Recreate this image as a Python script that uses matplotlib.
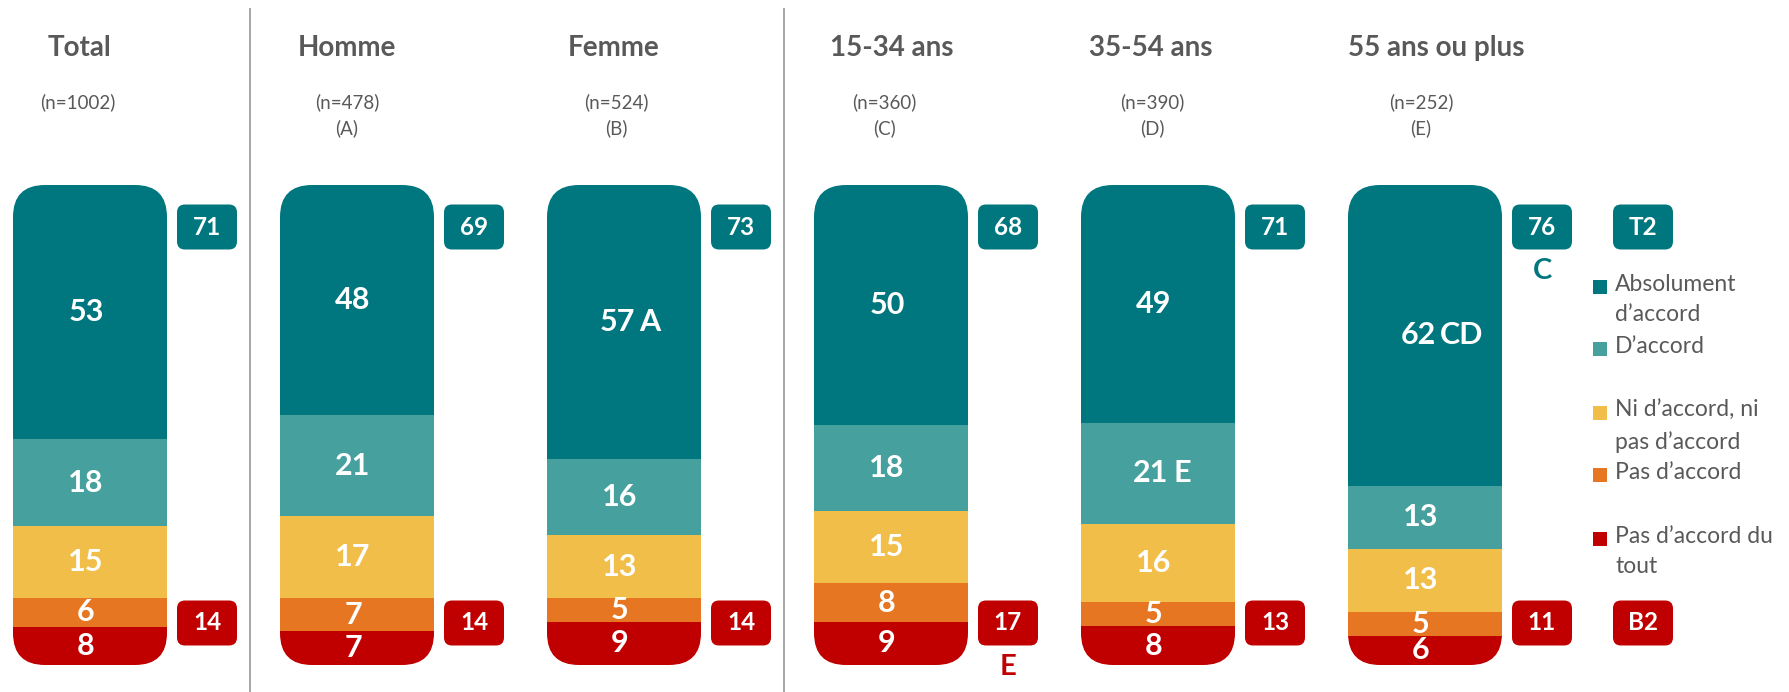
"""Stacked agreement bars by group, rounded columns with T2/B2 badges."""

import matplotlib

matplotlib.use("Agg")
import matplotlib.pyplot as plt
from matplotlib.patches import FancyBboxPatch

plt.rcParams["font.family"] = ["Lato", "DejaVu Sans"]

# --- data -------------------------------------------------------------
groups = ["Total", "Homme", "Femme", "15-34 ans", "35-54 ans", "55 ans ou plus"]
sizes = ["(n=1002)", "(n=478)", "(n=524)", "(n=360)", "(n=390)", "(n=252)"]
group_codes = ["", "(A)", "(B)", "(C)", "(D)", "(E)"]

categories = [
    "Absolument\nd\u2019accord",
    "D\u2019accord",
    "Ni d\u2019accord, ni\npas d\u2019accord",
    "Pas d\u2019accord",
    "Pas d\u2019accord du\ntout",
]
absolument = [53, 48, 57, 50, 49, 62]
accord = [18, 21, 16, 18, 21, 13]
neutre = [15, 17, 13, 15, 16, 13]
pas_accord = [6, 7, 5, 8, 5, 5]
pas_du_tout = [8, 7, 9, 9, 8, 6]

top2 = [71, 69, 73, 68, 71, 76]
bottom2 = [14, 14, 14, 17, 13, 11]

# significance letters: (series index, group index) -> letter
seg_letters = {(0, 2): "A", (0, 5): "CD", (1, 4): "E"}
top2_letters = ["", "", "", "", "", "C"]
bottom2_letters = ["", "", "", "E", "", ""]

colors = ["#00767E", "#45A09E", "#F1BE4A", "#E67622", "#C00000"]
GREY = "#595959"

# --- layout (pixels) --------------------------------------------------
W, H = 1789, 692
BAR_TOP = 185
PX_PCT = 4.8  # pixels per percent of bar
bar_x = [90 + 267 * i for i in range(6)]
bar_w = 154
title_x = [79, 347, 614, 892, 1151, 1436]
size_x = [78, 347, 616, 884, 1152, 1421]


def py(y_px):
    return (y_px - BAR_TOP) / PX_PCT


fig = plt.figure(figsize=(W / 100, H / 100), dpi=100)
ax = fig.add_axes([0, 0, 1, 1])
ax.set_xlim(0, W)
ax.set_ylim(py(H), py(0))
ax.axis("off")

series = [absolument, accord, neutre, pas_accord, pas_du_tout]

for g, x in enumerate(bar_x):
    vals = [s[g] for s in series]
    total = sum(vals)
    shares = [v / total * 100 for v in vals]

    clip = FancyBboxPatch(
        (x - bar_w / 2, 0), bar_w, 100,
        boxstyle="round,pad=0,rounding_size=32",
        mutation_aspect=1 / PX_PCT, transform=ax.transData,
        facecolor="none", edgecolor="none",
    )
    ax.add_patch(clip)

    bottom = 0
    for k, (v, sh) in enumerate(zip(vals, shares)):
        bars = ax.bar(x, sh, bottom=bottom, width=bar_w, color=colors[k],
                      linewidth=0)
        for b in bars:
            b.set_clip_path(clip)
        mid = bottom + sh / 2
        letter = seg_letters.get((k, g))
        nx = x - 7 if letter else x - 4
        t = ax.text(nx, mid, str(v), ha="center", va="center",
                    color="white", fontsize=22, fontweight="bold")
        t.set_clip_path(clip)
        if letter:
            ax.text(x + 15, mid, letter, ha="left", va="center",
                    color="white", fontsize=22, fontweight="bold")
        bottom += sh

    # T2 / B2 badges
    bx = x + 117
    for val, y_px, col, let in [
        (top2[g], 227, colors[0], top2_letters[g]),
        (bottom2[g], 623, colors[4], bottom2_letters[g]),
    ]:
        badge = FancyBboxPatch(
            (bx - 30, py(y_px - 22.5)), 60, 45 / PX_PCT,
            boxstyle="round,pad=0,rounding_size=8",
            mutation_aspect=1 / PX_PCT, facecolor=col, edgecolor="none",
        )
        ax.add_patch(badge)
        ax.text(bx, py(y_px), str(val), ha="center", va="center",
                color="white", fontsize=17.5, fontweight="bold")
        if let:
            ax.text(bx, py(y_px + 44), let, ha="center", va="center",
                    color=col, fontsize=21, fontweight="bold")

    # headers
    ax.text(title_x[g], py(48), groups[g], ha="center", va="center",
            color=GREY, fontsize=20, fontweight="bold")
    ax.text(size_x[g], py(102), sizes[g], ha="center", va="center",
            color=GREY, fontsize=13.5)
    if group_codes[g]:
        ax.text(size_x[g], py(128), group_codes[g], ha="center", va="center",
                color=GREY, fontsize=13.5)

# T2 / B2 key badges
for label, y_px, col in [("T2", 227, colors[0]), ("B2", 623, colors[4])]:
    kx = 1643
    ax.add_patch(FancyBboxPatch(
        (kx - 30, py(y_px - 22.5)), 60, 45 / PX_PCT,
        boxstyle="round,pad=0,rounding_size=8",
        mutation_aspect=1 / PX_PCT, facecolor=col, edgecolor="none",
    ))
    ax.text(kx, py(y_px), label, ha="center", va="center",
            color="white", fontsize=17.5, fontweight="bold")

# legend
legend_y = [287, 349, 413, 475, 539]
for name, col, y_px in zip(categories, colors, legend_y):
    ax.add_patch(FancyBboxPatch(
        (1593, py(y_px - 7)), 14, 14 / PX_PCT,
        boxstyle="square,pad=0", facecolor=col, edgecolor="none",
    ))
    ax.text(1615, py(y_px - 13), name, ha="left", va="top",
            color=GREY, fontsize=16.5, linespacing=1.55)

# separators
for sx in [250, 784]:
    ax.plot([sx, sx], [py(9), py(H)], color="#A6A6A6", lw=1.4)

fig.savefig("out.png", dpi=100)
